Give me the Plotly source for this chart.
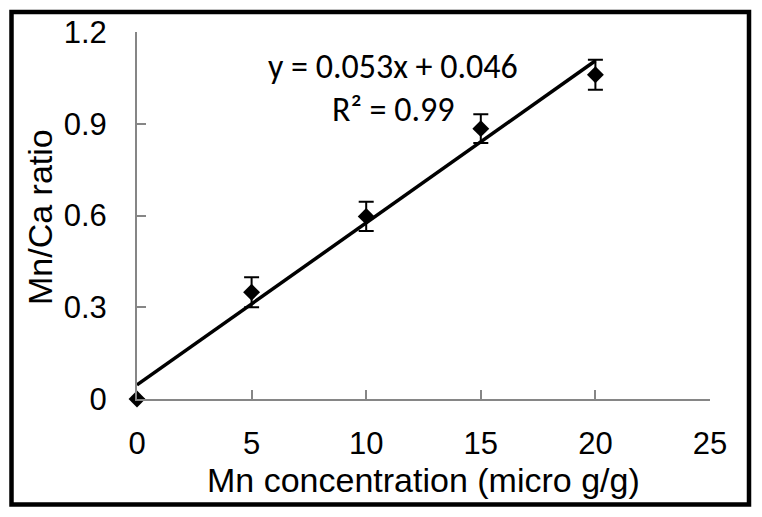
import plotly.graph_objects as go

# Data
conc = [0, 5, 10, 15, 20]
ratio = [0.0, 0.349, 0.597, 0.884, 1.060]
ratio_err = [0.0, 0.049, 0.048, 0.047, 0.049]
slope = 0.053
intercept = 0.046
r2 = 0.99
x_ticks = [0, 5, 10, 15, 20, 25]
y_ticks = [0, 0.3, 0.6, 0.9, 1.2]
y_tick_labels = ["0", "0.3", "0.6", "0.9", "1.2"]

fit_x = [min(conc), max(conc)]
fit_y = [slope * v + intercept for v in fit_x]

L, R, T, B = 137, 52, 32, 118
W, H = 762, 517
pw, ph = W - L - R, H - T - B

def px(x):
    return (x - L) / pw

def py(y):
    return (H - B - y) / ph

fig = go.Figure()
fig.add_trace(go.Scatter(
    x=fit_x, y=fit_y, mode="lines",
    line=dict(color="black", width=3.5),
    showlegend=False, hoverinfo="skip", cliponaxis=False,
))
fig.add_trace(go.Scatter(
    x=conc, y=ratio, mode="markers",
    marker=dict(symbol="diamond", size=13, color="black"),
    error_y=dict(type="data", array=ratio_err, visible=True,
                 color="black", thickness=2, width=7.5),
    showlegend=False, cliponaxis=False,
))

axis_common = dict(
    showline=True, linecolor="#868686", linewidth=2,
    ticks="inside", ticklen=9, tickwidth=2, tickcolor="#868686",
    showgrid=False, zeroline=False,
    tickfont=dict(family="Liberation Sans, Arial", size=31, color="black"),
)

fig.update_xaxes(range=[0, 25], tickvals=x_ticks, ticklabelstandoff=16, **axis_common)
fig.update_yaxes(range=[0, 1.2], tickvals=y_ticks, ticktext=y_tick_labels,
                 ticklabelstandoff=22, **axis_common)

fig.add_annotation(x=px(423), y=py(480), xref="paper", yref="paper",
                   text="Mn concentration (micro g/g)", showarrow=False,
                   font=dict(family="Liberation Sans, Arial", size=34, color="black"),
                   xanchor="center", yanchor="middle")
fig.add_annotation(x=px(40), y=py(217), xref="paper", yref="paper",
                   text="Mn/Ca ratio", showarrow=False, textangle=-90,
                   font=dict(family="Liberation Sans, Arial", size=34, color="black"),
                   xanchor="center", yanchor="middle")
fig.add_annotation(x=px(393), y=py(67), xref="paper", yref="paper",
                   text=f"y = {slope}x + {intercept}", showarrow=False,
                   font=dict(family="Carlito, Lato", size=34, color="black"),
                   xanchor="center", yanchor="middle")
fig.add_annotation(x=px(393), y=py(109), xref="paper", yref="paper",
                   text=f"R² = {r2}", showarrow=False,
                   font=dict(family="Carlito, Lato", size=34, color="black"),
                   xanchor="center", yanchor="middle")

fig.add_shape(type="rect", xref="paper", yref="paper",
              x0=px(11.5), x1=px(749), y0=py(504.5), y1=py(12),
              line=dict(color="black", width=4.5))

fig.update_layout(
    width=W, height=H,
    margin=dict(l=L, r=R, t=T, b=B),
    paper_bgcolor="white", plot_bgcolor="white",
)

fig.write_html("out.html", config={"displayModeBar": False},
               post_script="document.body.style.margin='0';")
